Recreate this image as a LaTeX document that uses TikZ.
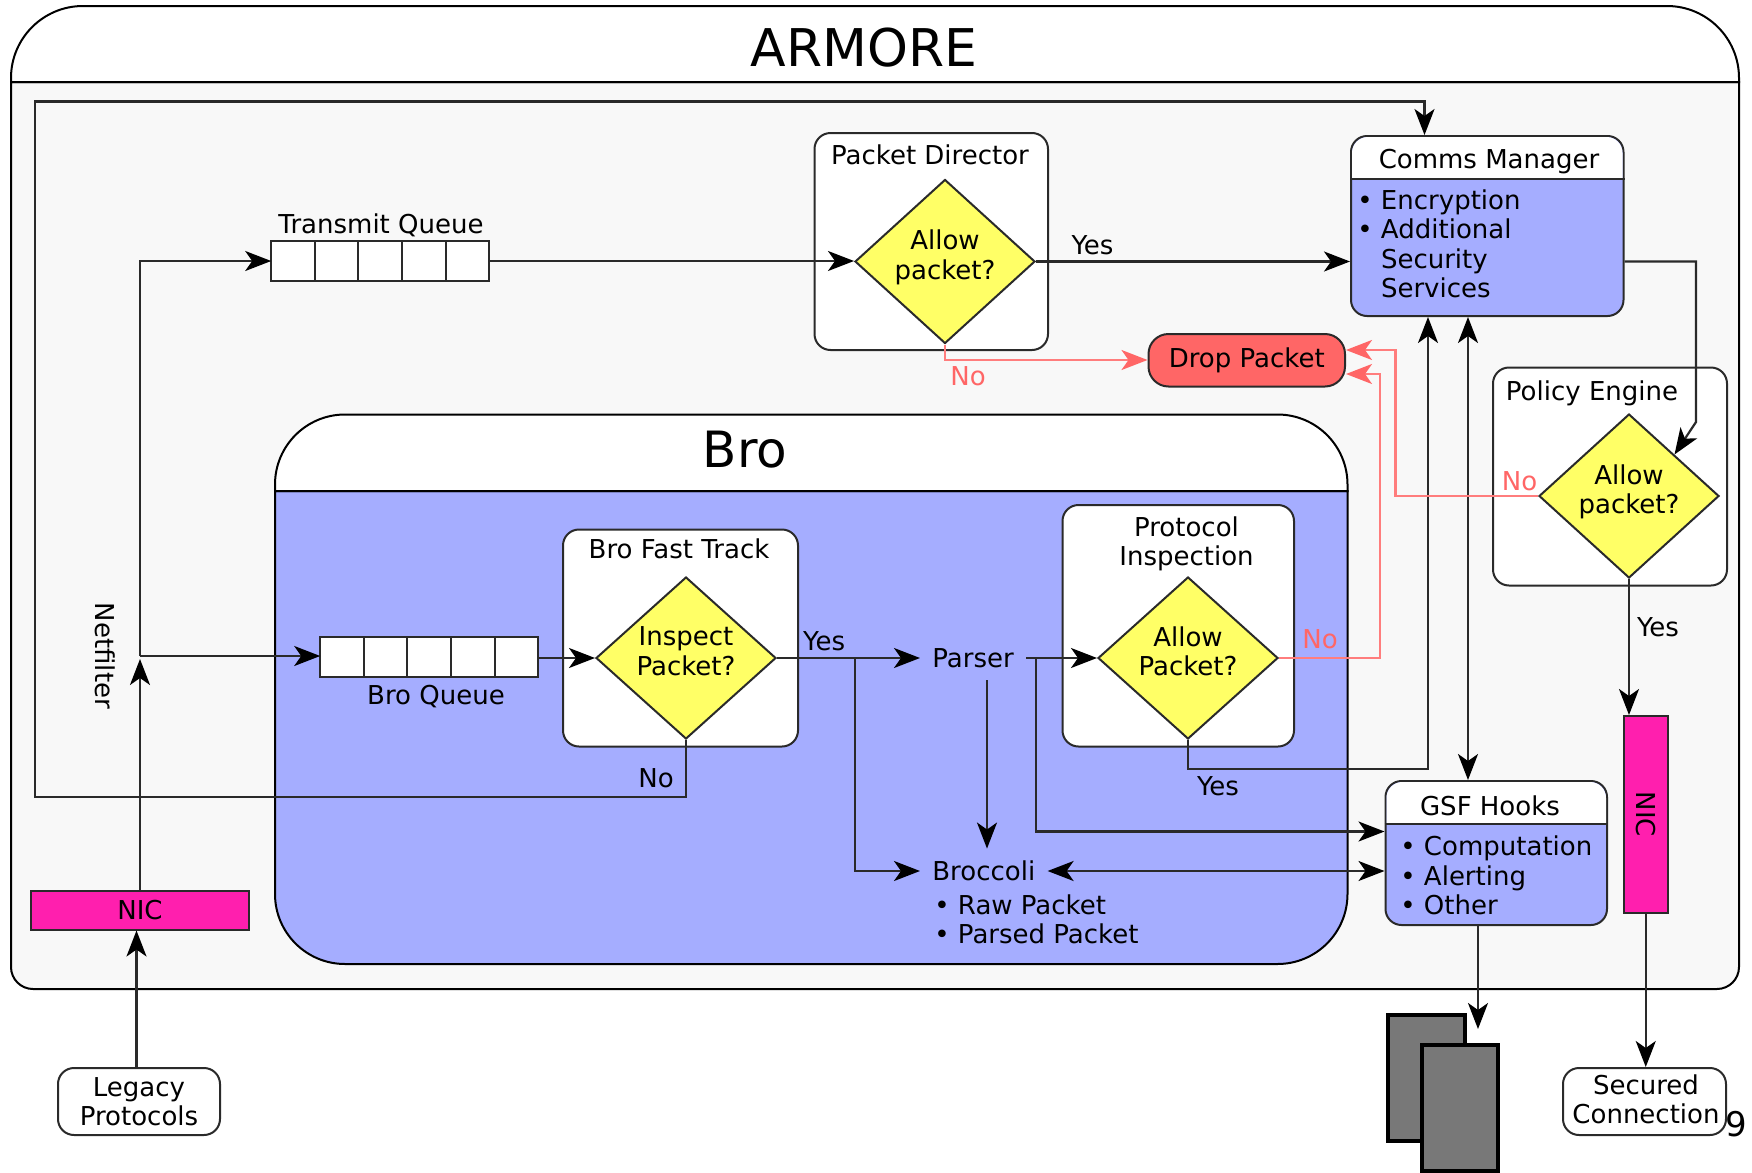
\documentclass[tikz,border=0pt]{standalone}
\usepackage{fontspec}
\setmainfont{DejaVu Sans}
\usepackage{xcolor}
\usepackage{tikz}
\usetikzlibrary{positioning,arrows.meta,shapes.geometric,fit}
\definecolor{panelbg}{HTML}{F8F8F8}
\definecolor{broblue}{HTML}{A5ADFF}
\definecolor{askyellow}{HTML}{FFFF66}
\definecolor{dropred}{HTML}{FF6666}
\definecolor{nicpink}{HTML}{FF1FAE}
\definecolor{linegray}{HTML}{2A2A2A}
\begin{document}
\begin{tikzpicture}[
  x=0.5pt, y=-0.5pt,
  panel/.style={draw=black, line width=1pt},
  box/.style={draw=linegray, line width=1pt, fill=white, rounded corners=8pt, inner sep=0pt},
  listbox/.style={box, fill=broblue},
  ask/.style={draw=linegray, line width=1pt, fill=askyellow, diamond, inner sep=0pt, text depth=7pt,
              minimum width=90pt, minimum height=81pt, font=\fontsize{13}{14.7}\selectfont, align=center},
  lbl/.style={font=\fontsize{13}{14.7}\selectfont, inner sep=3pt, align=center},
  listlbl/.style={lbl, align=left, anchor=west, inner sep=0pt},
  nolbl/.style={lbl, text=dropred},
  qcell/.style={draw=linegray, line width=1pt, fill=white, minimum width=21.8pt, minimum height=20pt,
                inner sep=0pt, outer sep=0pt},
  nicbox/.style={draw=linegray, line width=1pt, fill=nicpink, inner sep=0pt},
  server/.style={draw=black, line width=2pt, fill=black!53, inner sep=0pt},
  arrow/.style={-{Stealth[length=13pt,width=10pt,inset=3.5pt,black]}, line width=1.1pt, draw=linegray},
  dblarrow/.style={{Stealth[length=13pt,width=10pt,inset=3.5pt,black]}-{Stealth[length=13pt,width=10pt,inset=3.5pt,black]}, line width=1.1pt, draw=linegray},
  noarrow/.style={-{Stealth[length=13pt,width=10pt,inset=3.5pt,dropred]}, line width=1.1pt, draw=dropred!85!white}
]
\useasboundingbox (0,0) rectangle (1752,1173);

\draw[panel, fill=panelbg, rounded corners=11pt] (11,82) [sharp corners] -- (1739,82) [rounded corners=11pt] -- (1739,989) -- (11,989) [sharp corners] -- (11,82) -- cycle;
\draw[panel, fill=white] (11,82) [rounded corners=36pt] -- (11,6) -- (1739,6) [sharp corners] -- (1739,82) -- cycle;
\node[font=\fontsize{26}{30}\selectfont] (armore) at (864,48) {ARMORE};

\draw[panel, fill=broblue] (275,491) [rounded corners=35pt] -- (275,964) -- (1347.5,964) [sharp corners] -- (1347.5,491) -- cycle;
\draw[panel, fill=white] (275,491) [rounded corners=35pt] -- (275,414.5) -- (1347.5,414.5) [sharp corners] -- (1347.5,491) -- cycle;
\node[font=\fontsize{25}{30}\selectfont] (brotitle) at (745,450) {Bro};

\node[box, fit={(814.5,133) (1048,350)}] (pd) {};
\node[lbl] (pdtitle) at (930,155) {Packet Director};
\node[ask] (pdq) at (945,261.5) {Allow\\packet?};

\node[listbox, fit={(1351,136) (1623.5,316)}] (comms) {};
\fill[white] (1352,179) [rounded corners=8pt] -- (1352,137) -- (1622.5,137) [sharp corners] -- (1622.5,179) -- cycle;
\draw[linegray, line width=1pt] (comms.west |- 0,179) -- (comms.east |- 0,179);
\node[lbl] (commstitle) at (1489,162) {Comms Manager};
\node[listlbl] (commslist) at (1357,244) {\textbullet\ Encryption\\\textbullet\ Additional\\\phantom{\textbullet\ }Security\\\phantom{\textbullet\ }Services};

\node[box, fill=dropred, rounded corners=10pt, fit={(1148.5,334) (1345,386.5)}] (drop) {};
\node[lbl] (droptext) at (drop.center) {Drop Packet};

\node[box, fit={(1493,367.5) (1727,585.5)}] (policy) {};
\node[lbl] (policytitle) at (1592,393) {Policy Engine};
\node[ask] (policyq) at (1629,496) {Allow\\packet?};

\node[box, fit={(563,529.5) (798,746.5)}] (fast) {};
\node[lbl] (fasttitle) at (679,549) {Bro Fast Track};
\node[ask] (fastq) at (686,658) {Inspect\\Packet?};

\node[box, fit={(1062.5,505) (1294,746.5)}] (proto) {};
\node[lbl] (prototitle) at (1186.5,544) {Protocol\\Inspection};
\node[ask] (protoq) at (1188,658) {Allow\\Packet?};

\node[qcell] (tq1) at (293,261) {};
\node[qcell, right=0pt of tq1] (tq2) {};
\node[qcell, right=0pt of tq2] (tq3) {};
\node[qcell, right=0pt of tq3] (tq4) {};
\node[qcell, right=0pt of tq4] (tq5) {};
\node[lbl] (tqtitle) at (381,225) {Transmit Queue};

\node[qcell] (bq1) at (342,656.5) {};
\node[qcell, right=0pt of bq1] (bq2) {};
\node[qcell, right=0pt of bq2] (bq3) {};
\node[qcell, right=0pt of bq3] (bq4) {};
\node[qcell, right=0pt of bq4] (bq5) {};
\node[lbl] (bqtitle) at (436,697) {Bro Queue};

\node[lbl, anchor=west, inner xsep=6pt] (parser) at (920,658) {Parser};
\node[lbl, anchor=west, inner xsep=6pt] (broccoli) at (920,871) {Broccoli};
\node[listlbl] (brolist) at (934,919.5) {\textbullet\ Raw Packet\\\textbullet\ Parsed Packet};

\node[listbox, fit={(1385.5,781) (1607,925)}] (gsf) {};
\fill[white] (1386.5,823.5) [rounded corners=8pt] -- (1386.5,782) -- (1606,782) [sharp corners] -- (1606,823.5) -- cycle;
\draw[linegray, line width=1pt] (gsf.west |- 0,823.5) -- (gsf.east |- 0,823.5);
\node[lbl] (gsftitle) at (1490,806) {GSF Hooks};
\node[listlbl] (gsflist) at (1400,875.5) {\textbullet\ Computation\\\textbullet\ Alerting\\\textbullet\ Other};

\node[nicbox, fit={(31,890.5) (249,929.5)}] (nicl) {};
\node[lbl] (nicltext) at (nicl.center) {NIC};
\node[nicbox, fit={(1623.5,716) (1668,913)}] (nicr) {};
\node[lbl, rotate=-90] (nicrtext) at (nicr.center) {NIC};

\node[box, fit={(58,1068) (220,1135)}] (legacy) {};
\node[lbl] (legacytext) at (legacy.center) {Legacy\\Protocols};
\node[box, fit={(1563,1068) (1726,1135)}] (secured) {};
\node[lbl] (securedtext) at (1646,1099) {Secured\\Connection};

\node[server, fit={(1388,1014.5) (1465,1141)}] (servera) {};
\node[server, fit={(1422,1044.5) (1498,1171)}] (serverb) {};

\node[lbl, rotate=-90] (netfilter) at (105,656) {Netfilter};
\node[font=\fontsize{17}{20}\selectfont, inner sep=0pt] (pagenum) at (1736,1124) {9};

\coordinate (netf) at (140,656);
\coordinate (legacyx) at (136.5,0);
\coordinate (loopa) at (35,797);
\coordinate (loopb) at (1424.5,101.5);
\coordinate (yesbr) at (855,658);
\coordinate (gsfin) at (1036,831.5);
\coordinate (parserx) at (987,0);
\coordinate (protoout) at (1428,769);
\coordinate (hookx) at (1468,0);
\coordinate (commsout) at (1696,261.5);
\coordinate (policyturn) at (1696,422);
\coordinate (servtip) at (1478,1029);
\coordinate (dropa) at (1395.5,350);
\coordinate (dropb) at (1380,374);
\coordinate (dropc) at (945,360);

\draw[arrow] (fastq.south) |- (loopa) |- (loopb) -- (loopb |- comms.north);
\draw[arrow] (legacyx |- legacy.north) -- (legacyx |- nicl.south);
\draw[arrow] (nicl.north) -- ([yshift=-1.5pt]netf);
\draw[arrow] (netf) |- (tq1.west);
\draw[arrow] (netf) -- (netf -| bq1.west);
\draw[arrow] (tq5.east) -- (tq5.east -| pdq.west);
\draw[arrow] (bq5.east |- fastq.west) -- (fastq.west);
\draw[arrow] (pdq.east) -- node[lbl, pos=0.18, above=0pt]{Yes} (pdq.east -| comms.west);
\draw[arrow] (commsout -| comms.east) -- (commsout) -- (policyturn) -- (policyq.north east);
\draw[arrow] (fastq.east) -- node[lbl, pos=0.33, above=0pt]{Yes} (parser.west);
\draw[arrow] (yesbr) |- (broccoli.west);
\draw[arrow] (parser.east) -- (protoq.west);
\draw[arrow] (gsfin |- parser.east) -- (gsfin) -- (gsfin -| gsf.west);
\draw[arrow] ([yshift=-3pt]parserx |- parser.south) -- ([yshift=3pt]parserx |- broccoli.north);
\draw[dblarrow] (broccoli.east) -- (broccoli.east -| gsf.west);
\draw[arrow] (protoq.south) |- (protoout) -- (protoout |- comms.south);
\draw[dblarrow] (hookx |- comms.south) -- (hookx |- gsf.north);
\draw[arrow] (policyq.south) -- (policyq.south |- nicr.north);
\draw[arrow] (nicr.south) -- (nicr.south |- secured.north);
\draw[arrow] (servtip |- gsf.south) -- (servtip);

\draw[noarrow] (pdq.south) |- (dropc -| drop.west);
\draw[noarrow] (policyq.west) -| (dropa) -- (dropa -| drop.east);
\draw[noarrow] (protoq.east) -| (dropb) -- (dropb -| drop.east);

\node[lbl] (fastno) at (656,778) {No};
\node[lbl] (protoyes) at (1218,786) {Yes};
\node[lbl] (policyyes) at (1658,627) {Yes};
\node[nolbl] (pdno) at (968,376.5) {No};
\node[nolbl] (policyno) at (1519.5,481.5) {No};
\node[nolbl] (protono) at (1320,639) {No};
\end{tikzpicture}
\end{document}
